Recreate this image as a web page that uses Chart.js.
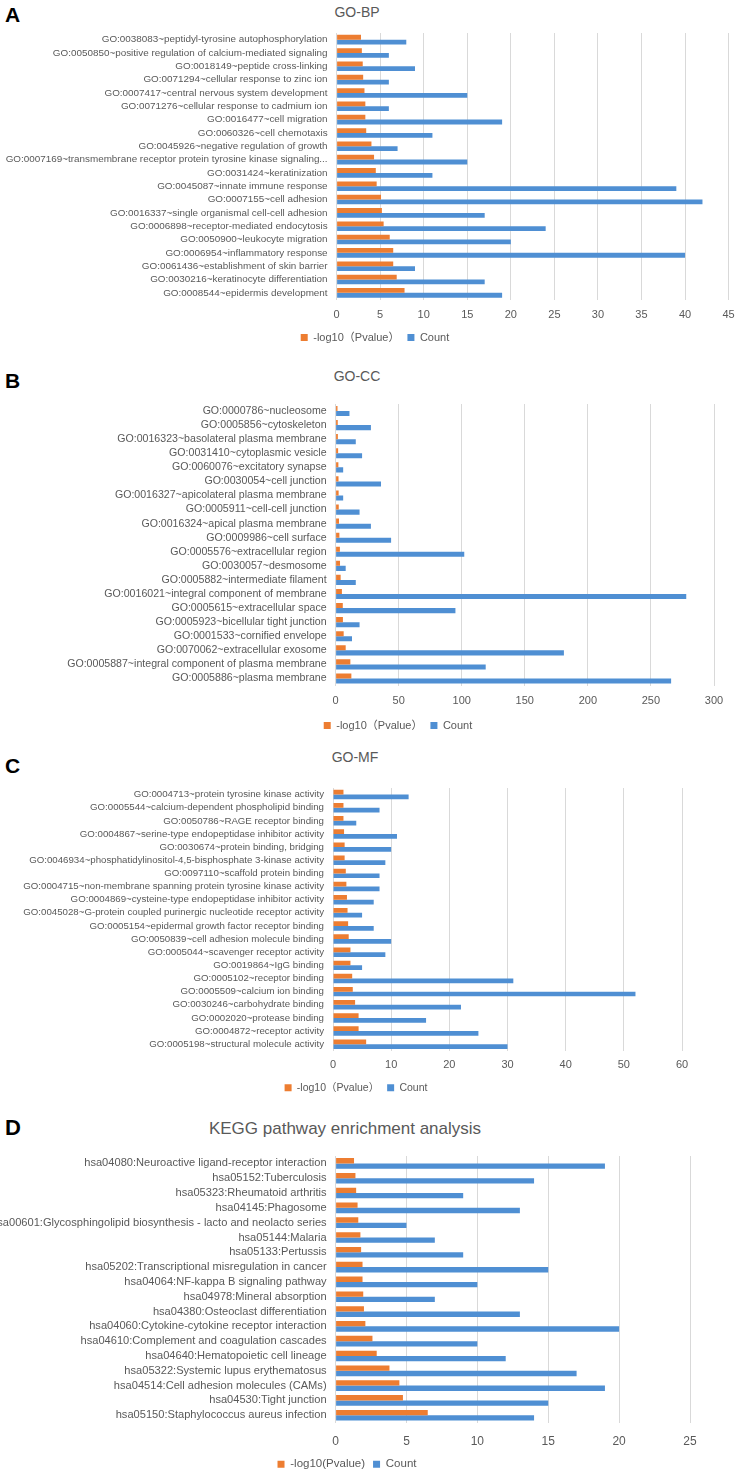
<!DOCTYPE html>
<html>
<head>
<meta charset="utf-8">
<script src="https://cdn.jsdelivr.net/npm/chart.js@4.4.0/dist/chart.umd.min.js"></script>
<style>
  html, body { margin: 0; padding: 0; background: #ffffff; }
  body { width: 743px; height: 1480px; position: relative; overflow: hidden; }
  .letter { position: absolute; left: 5px; font-family: "Liberation Sans", Arial, sans-serif; font-weight: bold; color: #000; line-height: 1; }
  .title { position: absolute; transform: translate(-50%, -50%); color: #595959; white-space: nowrap; font-family: "Liberation Sans", sans-serif; line-height: 1; }
  canvas { position: absolute; left: 0; }
</style>
</head>
<body>
<div class="letter" style="top:4px;font-size:21px;">A</div>
<div class="letter" style="top:370px;font-size:21px;">B</div>
<div class="letter" style="top:755px;font-size:21px;">C</div>
<div class="letter" style="top:1117px;font-size:22px;">D</div>
<div class="title" style="left:357px;top:12px;font-size:14px;">GO-BP</div>
<div class="title" style="left:357px;top:376px;font-size:14px;">GO-CC</div>
<div class="title" style="left:355px;top:757px;font-size:14px;">GO-MF</div>
<div class="title" style="left:345px;top:1128px;font-size:17px;">KEGG pathway enrichment analysis</div>

<script>
// ---------------- DATA ----------------
const bpLabels = [
  "GO:0038083~peptidyl-tyrosine autophosphorylation",
  "GO:0050850~positive regulation of calcium-mediated signaling",
  "GO:0018149~peptide cross-linking",
  "GO:0071294~cellular response to zinc ion",
  "GO:0007417~central nervous system development",
  "GO:0071276~cellular response to cadmium ion",
  "GO:0016477~cell migration",
  "GO:0060326~cell chemotaxis",
  "GO:0045926~negative regulation of growth",
  "GO:0007169~transmembrane receptor protein tyrosine kinase signaling...",
  "GO:0031424~keratinization",
  "GO:0045087~innate immune response",
  "GO:0007155~cell adhesion",
  "GO:0016337~single organismal cell-cell adhesion",
  "GO:0006898~receptor-mediated endocytosis",
  "GO:0050900~leukocyte migration",
  "GO:0006954~inflammatory response",
  "GO:0061436~establishment of skin barrier",
  "GO:0030216~keratinocyte differentiation",
  "GO:0008544~epidermis development"
];
const bpPvalue = [2.8, 2.9, 3.0, 3.05, 3.2, 3.3, 3.3, 3.4, 4.0, 4.3, 4.5, 4.6, 5.1, 5.2, 5.4, 6.1, 6.5, 6.5, 6.9, 7.8];
const bpCount  = [8, 6, 9, 6, 15, 6, 19, 11, 7, 15, 11, 39, 42, 17, 24, 20, 40, 9, 17, 19];
const bpTicks  = [0, 5, 10, 15, 20, 25, 30, 35, 40, 45];

const ccLabels = [
  "GO:0000786~nucleosome",
  "GO:0005856~cytoskeleton",
  "GO:0016323~basolateral plasma membrane",
  "GO:0031410~cytoplasmic vesicle",
  "GO:0060076~excitatory synapse",
  "GO:0030054~cell junction",
  "GO:0016327~apicolateral plasma membrane",
  "GO:0005911~cell-cell junction",
  "GO:0016324~apical plasma membrane",
  "GO:0009986~cell surface",
  "GO:0005576~extracellular region",
  "GO:0030057~desmosome",
  "GO:0005882~intermediate filament",
  "GO:0016021~integral component of membrane",
  "GO:0005615~extracellular space",
  "GO:0005923~bicellular tight junction",
  "GO:0001533~cornified envelope",
  "GO:0070062~extracellular exosome",
  "GO:0005887~integral component of plasma membrane",
  "GO:0005886~plasma membrane"
];
const ccPvalue = [1.5, 1.7, 1.8, 2.0, 2.2, 2.3, 2.4, 2.5, 2.7, 3.0, 3.4, 3.5, 4.0, 5.0, 5.7, 5.8, 6.4, 8.0, 11.7, 12.5];
const ccCount  = [11, 28, 16, 21, 6, 36, 6, 19, 28, 44, 102, 8, 16, 278, 95, 19, 13, 181, 119, 266];
const ccTicks  = [0, 50, 100, 150, 200, 250, 300];

const mfLabels = [
  "GO:0004713~protein tyrosine kinase activity",
  "GO:0005544~calcium-dependent phospholipid binding",
  "GO:0050786~RAGE receptor binding",
  "GO:0004867~serine-type endopeptidase inhibitor activity",
  "GO:0030674~protein binding, bridging",
  "GO:0046934~phosphatidylinositol-4,5-bisphosphate 3-kinase activity",
  "GO:0097110~scaffold protein binding",
  "GO:0004715~non-membrane spanning protein tyrosine kinase activity",
  "GO:0004869~cysteine-type endopeptidase inhibitor activity",
  "GO:0045028~G-protein coupled purinergic nucleotide receptor activity",
  "GO:0005154~epidermal growth factor receptor binding",
  "GO:0050839~cell adhesion molecule binding",
  "GO:0005044~scavenger receptor activity",
  "GO:0019864~IgG binding",
  "GO:0005102~receptor binding",
  "GO:0005509~calcium ion binding",
  "GO:0030246~carbohydrate binding",
  "GO:0002020~protease binding",
  "GO:0004872~receptor activity",
  "GO:0005198~structural molecule activity"
];
const mfPvalue = [1.8, 1.8, 1.8, 1.9, 2.0, 2.0, 2.2, 2.3, 2.4, 2.5, 2.6, 2.7, 3.0, 3.0, 3.3, 3.4, 3.8, 4.4, 4.4, 5.7];
const mfCount  = [13, 8, 4, 11, 10, 9, 8, 8, 7, 5, 7, 10, 9, 5, 31, 52, 22, 16, 25, 30];
const mfTicks  = [0, 10, 20, 30, 40, 50, 60];

const keggLabels = [
  "hsa04080:Neuroactive ligand-receptor interaction",
  "hsa05152:Tuberculosis",
  "hsa05323:Rheumatoid arthritis",
  "hsa04145:Phagosome",
  "hsa00601:Glycosphingolipid biosynthesis - lacto and neolacto series",
  "hsa05144:Malaria",
  "hsa05133:Pertussis",
  "hsa05202:Transcriptional misregulation in cancer",
  "hsa04064:NF-kappa B signaling pathway",
  "hsa04978:Mineral absorption",
  "hsa04380:Osteoclast differentiation",
  "hsa04060:Cytokine-cytokine receptor interaction",
  "hsa04610:Complement and coagulation cascades",
  "hsa04640:Hematopoietic cell lineage",
  "hsa05322:Systemic lupus erythematosus",
  "hsa04514:Cell adhesion molecules (CAMs)",
  "hsa04530:Tight junction",
  "hsa05150:Staphylococcus aureus infection"
];
const keggPvalue = [1.3, 1.4, 1.45, 1.55, 1.6, 1.75, 1.8, 1.9, 1.9, 1.95, 2.0, 2.1, 2.6, 2.9, 3.8, 4.5, 4.75, 6.5];
const keggCount  = [19, 14, 9, 13, 5, 7, 9, 15, 10, 7, 13, 20, 10, 12, 17, 19, 15, 14];
const keggTicks  = [0, 5, 10, 15, 20, 25];

const seriesNamesGO   = ["-log10\uFF08Pvalue\uFF09", "Count"];
const seriesNamesKEGG = ["-log10(Pvalue)", "Count"];

// ---------------- STYLE ----------------
const ORANGE = "#ED7D31";
const BLUE = "#4F8FD3";
const GRID = "#D9D9D9";
const TEXT = "#595959";
const FONT = '"Liberation Sans", "Noto Sans CJK SC", sans-serif';

function panel(labels, pv, cnt, ticks, names, L) {
  const P = 8;
  const LF = L.legendFont;
  const itemH = Math.max(7, LF);
  const legendH = itemH + P + 10;
  const Hx = L.legendY - P - itemH / 2 - L.bottom;
  const padR = 743 - L.right;
  const padL = 2 * L.legendX - L.right;
  const canvasTop = L.top - 4;
  const H = Math.round(4 + (L.bottom - L.top) + Hx + legendH);
  const c = document.createElement("canvas");
  c.width = 743; c.height = H;
  c.style.top = canvasTop + "px";
  c.style.width = "743px"; c.style.height = H + "px";
  document.body.appendChild(c);
  const tmin = ticks[0], tmax = ticks[ticks.length - 1], step = ticks[1] - ticks[0];
  new Chart(c, {
    type: "bar",
    data: {
      labels: labels,
      datasets: [
        { label: names[0], data: pv, backgroundColor: ORANGE, borderWidth: 0 },
        { label: names[1], data: cnt, backgroundColor: BLUE, borderWidth: 0 }
      ]
    },
    options: {
      indexAxis: "y",
      responsive: false,
      animation: false,
      devicePixelRatio: 1,
      layout: { padding: { left: padL, right: padR, top: 4, bottom: 0 } },
      datasets: { bar: { categoryPercentage: L.catPct, barPercentage: 1.0 } },
      scales: {
        y: {
          afterFit: s => {
            s.width = L.left - padL; s.paddingTop = 0; s.paddingBottom = 0;
            s._computeLabelArea = () => undefined;   // let long labels run into the left margin
          },
          grid: { display: false, drawTicks: false },
          border: { display: false },
          ticks: { color: TEXT, padding: 9, autoSkip: false, font: { family: FONT, size: L.labelFont } }
        },
        x: {
          min: tmin, max: tmax,
          afterFit: s => { s.height = Hx; s.paddingLeft = 0; s.paddingRight = 0; },
          afterBuildTicks: s => { s.ticks = ticks.map(v => ({ value: v })); },
          grid: { color: GRID, lineWidth: 1, drawTicks: false },
          border: { display: false },
          ticks: { color: TEXT, padding: L.tickPad, stepSize: step, font: { family: FONT, size: L.tickFont } }
        }
      },
      plugins: {
        legend: {
          position: "bottom",
          labels: { boxWidth: 7, boxHeight: 7, padding: P, color: TEXT, font: { family: FONT, size: LF } }
        },
        tooltip: { enabled: false },
        title: { display: false }
      }
    }
  });
}

panel(bpLabels, bpPvalue, bpCount, bpTicks, seriesNamesGO,
  { top: 33.3, bottom: 300, left: 336.6, right: 728.6, legendX: 375, legendY: 338, tickPad: 9, labelFont: 9.9, tickFont: 11, legendFont: 11, catPct: 0.72 });
panel(ccLabels, ccPvalue, ccCount, ccTicks, seriesNamesGO,
  { top: 404, bottom: 685, left: 335.6, right: 714, legendX: 398, legendY: 725, tickPad: 9, labelFont: 10.6, tickFont: 11, legendFont: 11, catPct: 0.72 });
panel(mfLabels, mfPvalue, mfCount, mfTicks, seriesNamesGO,
  { top: 787.5, bottom: 1050, left: 333, right: 682, legendX: 356, legendY: 1087, tickPad: 8, labelFont: 9.7, tickFont: 11, legendFont: 10.5, catPct: 0.72 });
panel(keggLabels, keggPvalue, keggCount, keggTicks, seriesNamesKEGG,
  { top: 1155.6, bottom: 1422.4, left: 335.6, right: 690, legendX: 347, legendY: 1464, tickPad: 12, labelFont: 11.1, tickFont: 12, legendFont: 11.5, catPct: 0.72 });
</script>
</body>
</html>
